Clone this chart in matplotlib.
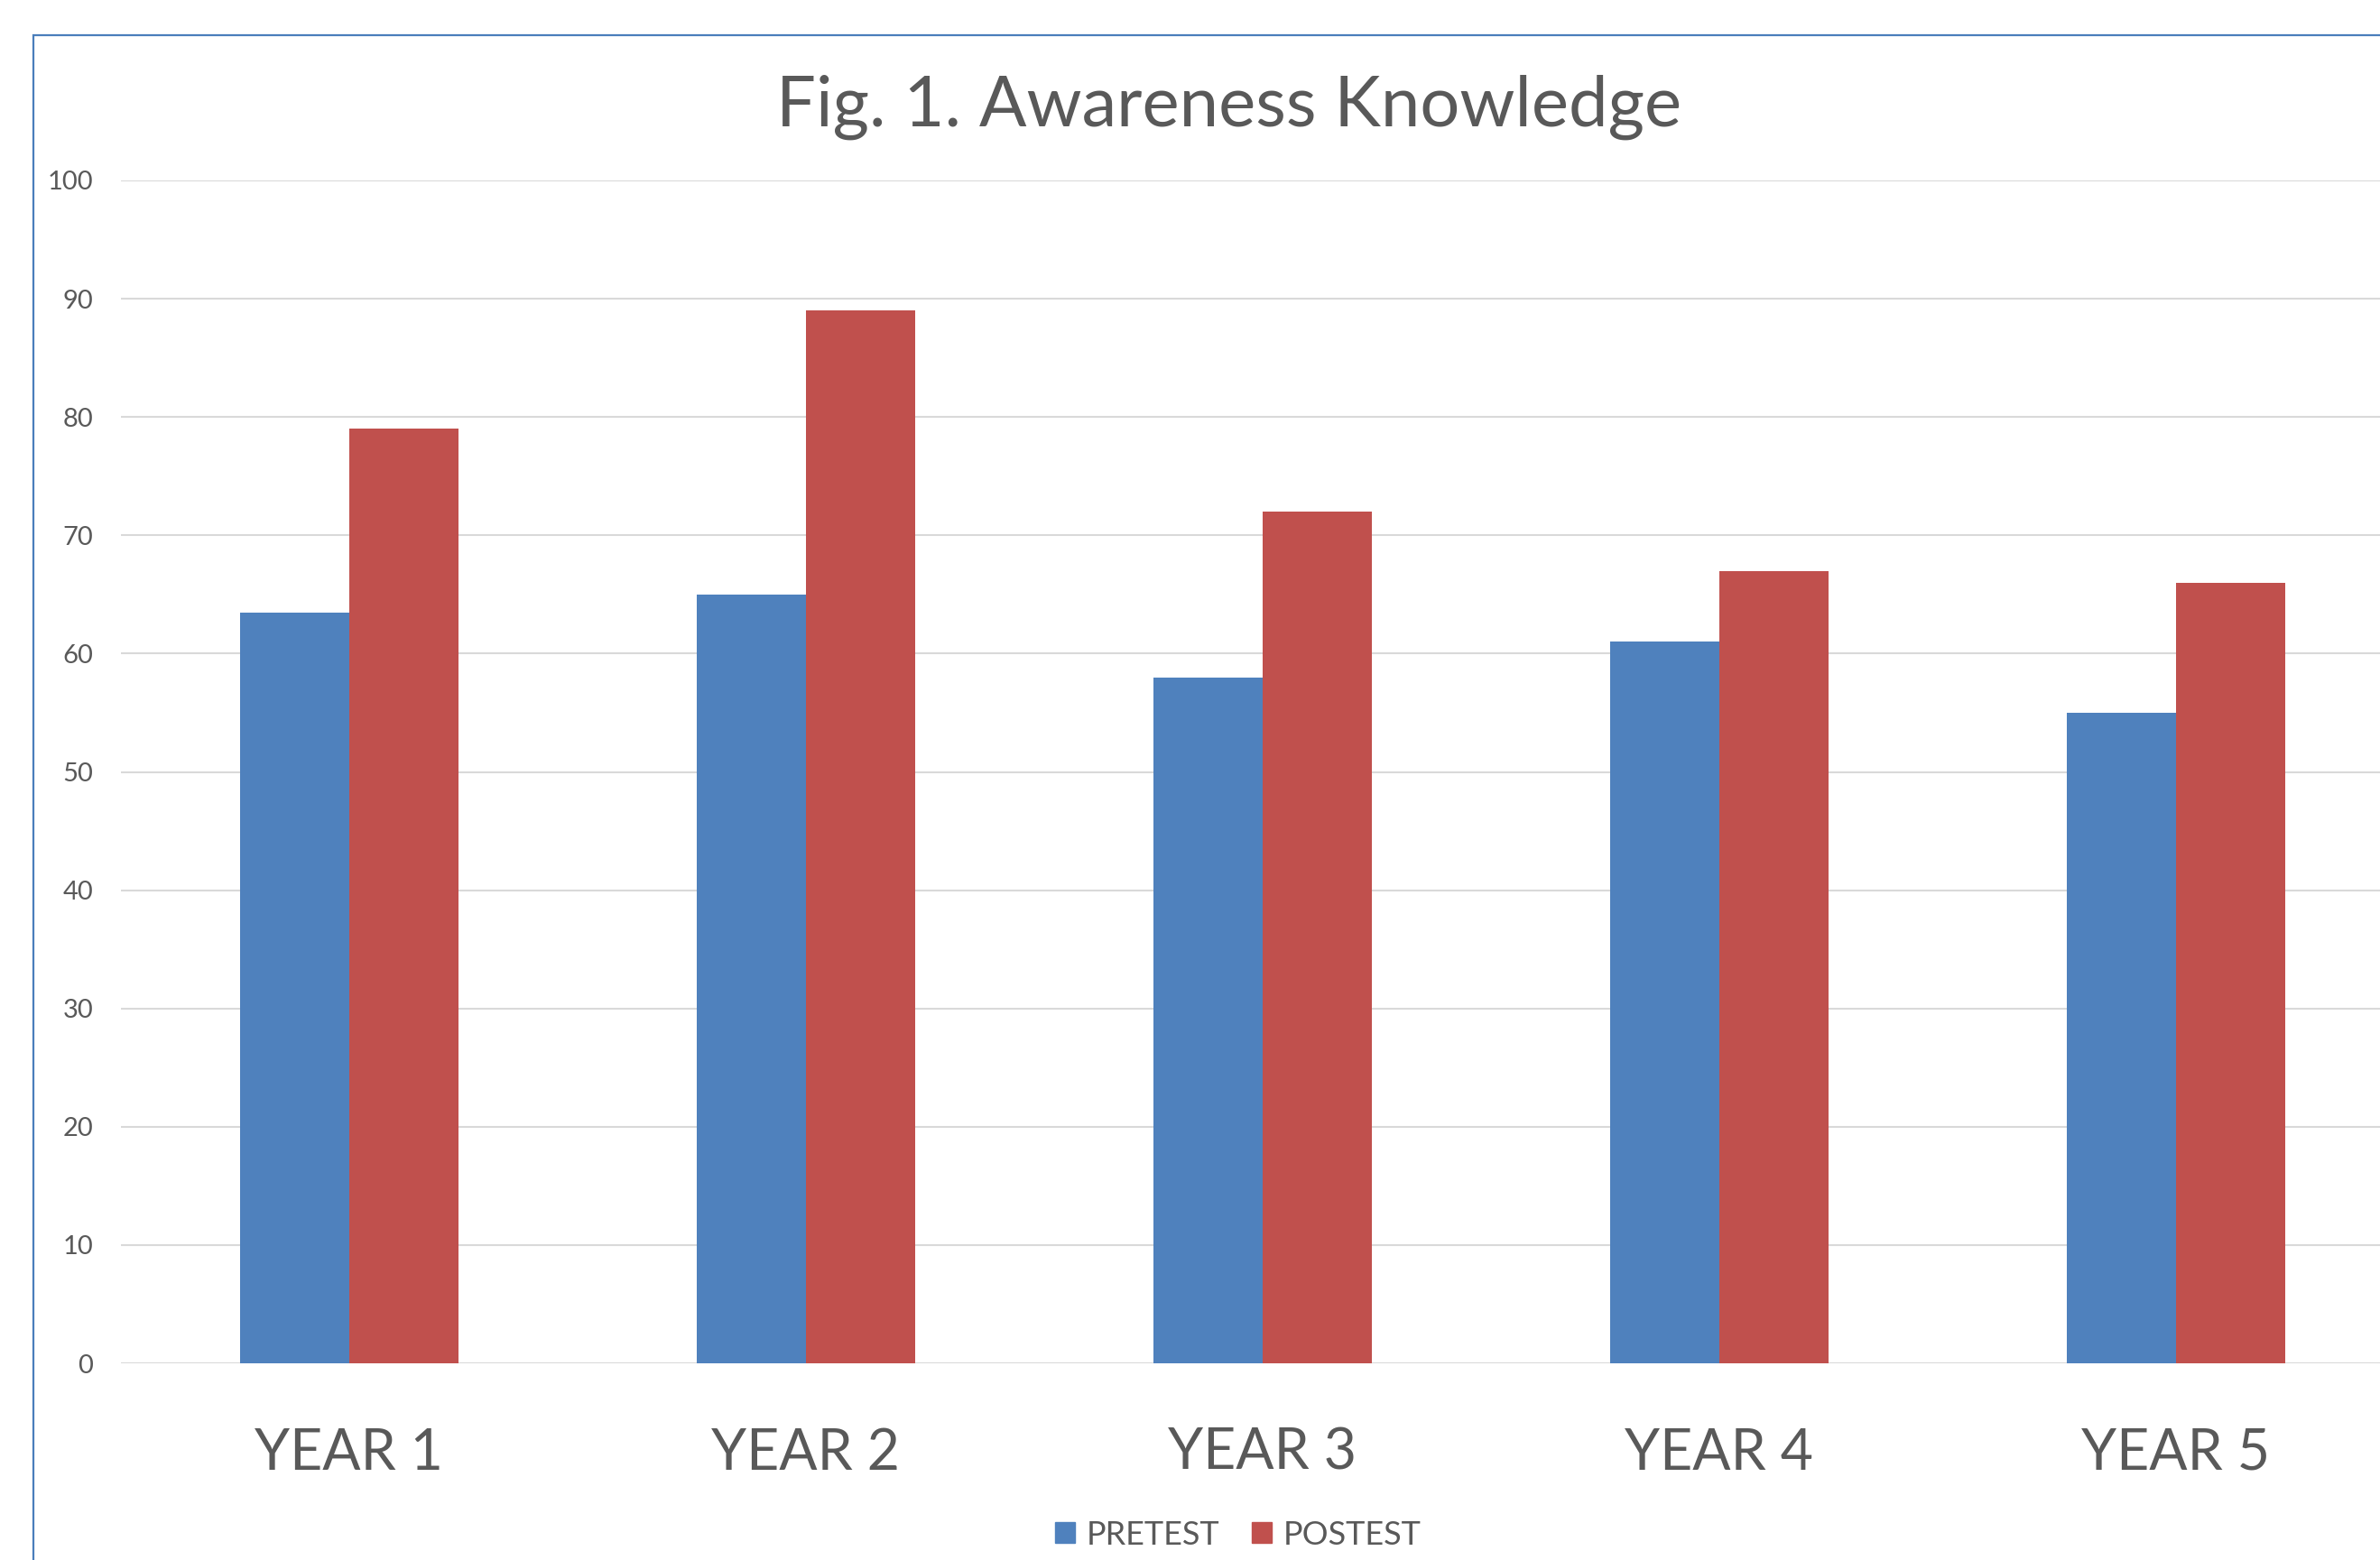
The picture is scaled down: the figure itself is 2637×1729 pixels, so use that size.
import numpy as np
import matplotlib
matplotlib.use("Agg")
import matplotlib.pyplot as plt
from matplotlib.patches import Rectangle, Patch

plt.rcParams['font.family'] = ['Lato', 'DejaVu Sans']

# data
years = ["YEAR 1", "YEAR 2", "YEAR 3", "YEAR 4", "YEAR 5"]
pretest = [63.5, 65, 58, 61, 55]
postest = [79, 89, 72, 67, 66]
series_names = ["PRETEST", "POSTEST"]

blue = "#4F81BD"
red = "#C0504D"
txt = "#595959"

fig = plt.figure(figsize=(26.37, 17.29), dpi=100)
ax = fig.add_axes([134 / 2637, 1 - 1511 / 1729, 1 - 134 / 2637, (1511 - 200) / 1729])

x = np.arange(len(years))
w = 0.239
ax.bar(x - w / 2, pretest, w, color=blue, zorder=3)
ax.bar(x + w / 2, postest, w, color=red, zorder=3)

ax.set_ylim(0, 100)
ax.set_xlim(-0.5, 4.447)
ax.set_yticks(np.arange(0, 101, 10))
ax.grid(axis="y", color="#D9D9D9", linewidth=1.5, zorder=0)
for s in ax.spines.values():
    s.set_visible(False)
ax.tick_params(axis="y", length=0, pad=22, labelsize=21, labelcolor=txt)
ax.set_xticks(x)
ax.set_xticklabels(years)
ax.tick_params(axis="x", length=0, pad=51, labelsize=45, labelcolor=txt)

fig.text(1362 / 2637, 1 - 119 / 1729, "Fig. 1. Awareness Knowledge",
         ha="center", va="center", fontsize=56, color=txt)

handles = [Patch(color=blue), Patch(color=red)]
fig.legend(handles, series_names, loc="center", bbox_to_anchor=(1372 / 2637, 1 - 1701 / 1729),
           ncol=2, frameon=False, fontsize=26, labelcolor=txt,
           handlelength=0.6, handleheight=0.6, handletextpad=0.35, columnspacing=1.0)

# chart border (cropped on the right and bottom)
fig.patches.append(Rectangle((37 / 2637, -0.1), 1.2, 1 - 39 / 1729 + 0.1,
                             transform=fig.transFigure, fill=False,
                             edgecolor="#4A7EBB", linewidth=1.6))

fig.savefig("out.png", dpi=100, facecolor="white")
